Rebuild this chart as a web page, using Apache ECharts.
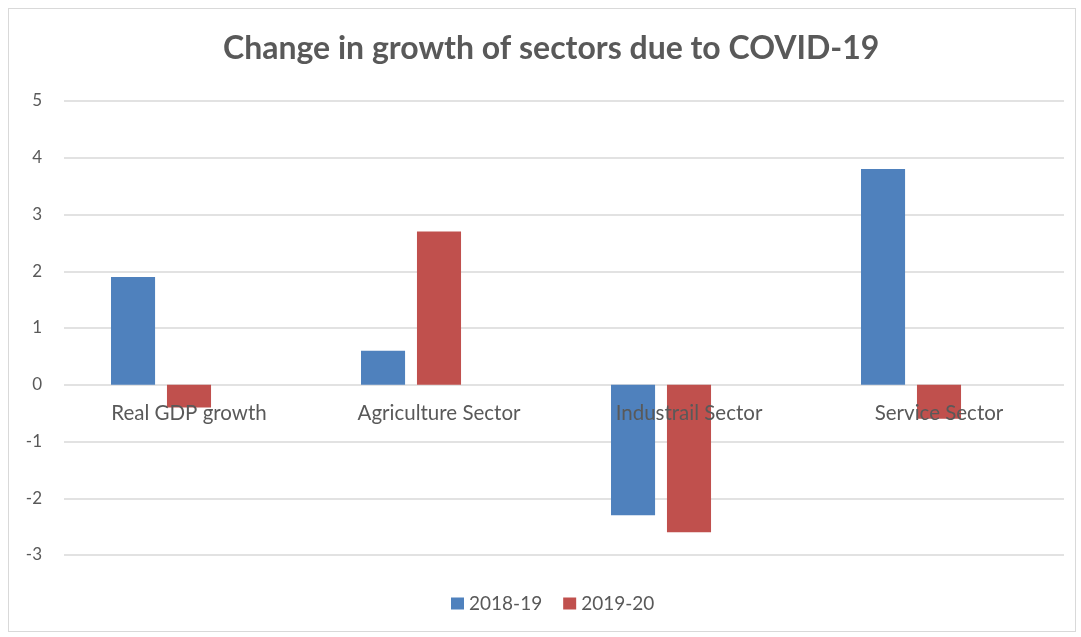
<!DOCTYPE html>
<html>
<head>
<meta charset="utf-8">
<script src="https://cdn.jsdelivr.net/npm/echarts@6/dist/echarts.min.js"></script>
<style>
  html, body { margin: 0; padding: 0; background: #ffffff; }
  #frame { position: absolute; left: 8px; top: 8px; width: 1068px; height: 624px;
           border: 1px solid #d9d9d9; box-sizing: border-box; }
  #chart { position: absolute; left: 0; top: 0; width: 1081px; height: 637px; }
</style>
</head>
<body>
<div id="frame"></div>
<div id="chart"></div>
<script>
// Sectors and their growth change (percentage points)
const categories = ['Real GDP growth', 'Agriculture Sector', 'Industrail Sector', 'Service Sector'];
const seriesNames = ['2018-19', '2019-20'];
const values1819 = [1.9, 0.6, -2.3, 3.8];
const values1920 = [-0.4, 2.7, -2.6, -0.6];
// Third slot in each cluster is left empty, so each pair sits left of its label
const emptySlot = [null, null, null, null];
const colors = ['#4f81bd', '#c0504d'];

const chart = echarts.init(document.getElementById('chart'));
const fontFamily = 'Lato, "Open Sans", sans-serif';

chart.setOption({
  animation: false,
  textStyle: { fontFamily: fontFamily },
  title: {
    text: 'Change in growth of sectors due to COVID-19',
    left: 218,
    top: 28,
    textStyle: { fontFamily: fontFamily, fontSize: 32, fontWeight: 'bold', color: '#595959' }
  },
  legend: {
    data: seriesNames,
    top: 594,
    left: 451,
    padding: 0,
    itemWidth: 13,
    itemHeight: 12,
    itemGap: 21,
    icon: 'rect',
    textStyle: { fontSize: 19, color: '#595959' }
  },
  grid: { left: 64, right: 17, top: 101, bottom: 82, containLabel: false, outerBoundsMode: 'none' },
  xAxis: {
    type: 'category',
    data: categories,
    axisLine: { show: false, onZero: false },
    axisTick: { show: false },
    // labels sit just below the zero line, drawn over the bars
    axisLabel: { fontSize: 20.5, color: '#595959', margin: -152 },
    z: 10
  },
  yAxis: {
    type: 'value',
    min: -3,
    max: 5,
    interval: 1,
    axisLine: { show: false },
    axisTick: { show: false },
    axisLabel: { fontSize: 17, color: '#595959', margin: 22 },
    splitLine: { lineStyle: { color: '#d9d9d9', width: 1.5 } },
    z: 0
  },
  series: [
    {
      name: seriesNames[0],
      type: 'bar',
      data: values1819,
      itemStyle: { color: colors[0] },
      barGap: '27%',
      barCategoryGap: '37.6%',
      z: 2
    },
    {
      name: seriesNames[1],
      type: 'bar',
      data: values1920,
      itemStyle: { color: colors[1] },
      z: 2
    },
    {
      name: 'empty',
      type: 'bar',
      data: emptySlot,
      z: 2
    }
  ]
});
</script>
</body>
</html>
